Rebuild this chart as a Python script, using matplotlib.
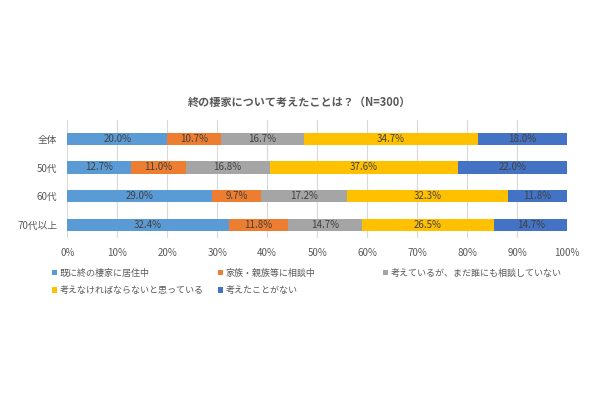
import matplotlib
matplotlib.use("Agg")
import matplotlib.pyplot as plt
import numpy as np

plt.rcParams['font.family'] = ['Noto Sans CJK JP', 'DejaVu Sans']

# data
groups = ["全体", "50代", "60代", "70代以上"]
series = ["既に終の棲家に居住中", "家族・親族等に相談中", "考えているが、まだ誰にも相談していない",
          "考えなければならないと思っている", "考えたことがない"]
lived = [20.0, 12.7, 29.0, 32.4]
consulting = [10.7, 11.0, 9.7, 11.8]
thinking = [16.7, 16.8, 17.2, 14.7]
should_think = [34.7, 37.6, 32.3, 26.5]
never = [18.0, 22.0, 11.8, 14.7]
colors = ["#5B9BD5", "#ED7D31", "#A5A5A5", "#FFC000", "#4472C4"]

values = [lived, consulting, thinking, should_think, never]
text_color = "#595959"

fig = plt.figure(figsize=(6, 4), dpi=100)
ax = fig.add_axes([0.112, 0.405, 0.833, 0.295])

y = np.arange(len(groups))
left = np.zeros(len(groups))
handles = []
for vals, col, name in zip(values, colors, series):
    vals = np.array(vals)
    b = ax.barh(y, vals, left=left, height=0.43, color=col, label=name, zorder=2)
    handles.append(b)
    for yi, (l, v) in enumerate(zip(left, vals)):
        ax.text(l + v / 2, yi, f"{v:.1f}%", ha="center", va="center",
                fontsize=7, color="#404040", zorder=3)
    left = left + vals

ax.set_xlim(0, 100)
ax.set_ylim(3.45, -0.65)
ax.set_yticks(y)
ax.set_yticklabels(groups, fontsize=7, color=text_color)
ax.set_xticks(np.arange(0, 101, 10))
ax.set_xticklabels([f"{t}%" for t in range(0, 101, 10)], fontsize=7, color=text_color)
ax.tick_params(axis="x", length=0, pad=7)
ax.tick_params(axis="y", length=0, pad=7)
ax.grid(axis="x", color="#D9D9D9", linewidth=0.8, zorder=0)
for s in ax.spines.values():
    s.set_visible(False)

fig.text(0.5, 0.745, "終の棲家について考えたことは？（N=300）", ha="center", va="center",
         fontsize=8, fontweight="bold", color=text_color)

# legend laid out row by row in three fixed columns
col_x = [0.083, 0.36, 0.635]
for c in range(3):
    idx = [i for i in range(len(series)) if i % 3 == c]
    leg = fig.legend(handles=[handles[i] for i in idx], loc="upper left",
                     bbox_to_anchor=(col_x[c], 0.333), ncol=1, frameon=False,
                     fontsize=6.5, handlelength=0.6, handleheight=0.6,
                     handletextpad=0.3, labelspacing=0.95, borderpad=0.2,
                     borderaxespad=0, labelcolor=text_color)

fig.savefig("out.png", dpi=100, facecolor="white")
